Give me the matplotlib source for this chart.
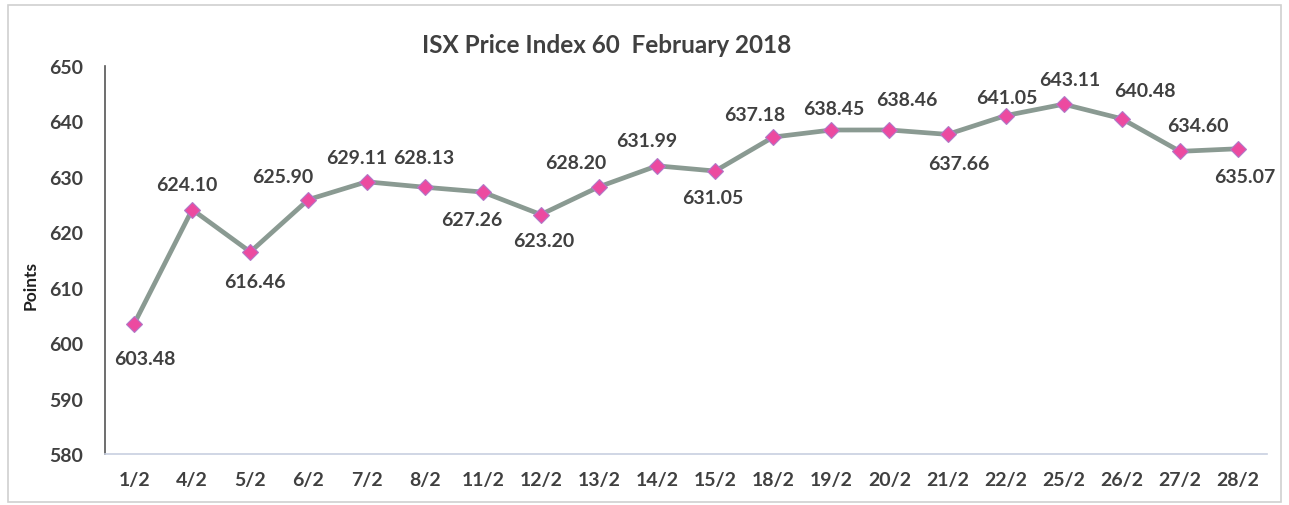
import matplotlib.pyplot as plt
from matplotlib.patches import Rectangle

# data
dates = ['1/2', '4/2', '5/2', '6/2', '7/2', '8/2', '11/2', '12/2', '13/2', '14/2',
         '15/2', '18/2', '19/2', '20/2', '21/2', '22/2', '25/2', '26/2', '27/2', '28/2']
values = [603.48, 624.10, 616.46, 625.90, 629.11, 628.13, 627.26, 623.20, 628.20, 631.99,
          631.05, 637.18, 638.45, 638.46, 637.66, 641.05, 643.11, 640.48, 634.60, 635.07]

# label placement relative to the marker (pixels, +dy = above)
label_dx = [11, -5, 5, -26, -10, -1, -11, 3, -23, -10,
            -2, -19, 2, 17, 11, 1, 6, 23, 18, 7]
label_dy = [-35, 25, -30, 23, 24, 30, -27, -26, 24, 25,
            -26, 23, 22, 30, -29, 18, 25, 28, 26, -28]

plt.rcParams['font.family'] = ['Lato', 'DejaVu Sans']
txt = '#404040'

fig = plt.figure(figsize=(12.89, 5.06), dpi=100)
fig.patches.append(Rectangle((0.006, 0.006), 0.988, 0.982, transform=fig.transFigure,
                             fill=False, edgecolor='#d0d0d0', lw=1.2))
ax = fig.add_axes([0.0815, 0.1008, 0.9015, 0.7668])

x = list(range(len(dates)))
ax.plot(x, values, color='#8a9a92', lw=3.4, zorder=2)
ax.plot(x, values, ls='none', marker='D', ms=8.5, markerfacecolor='#ec4aa0',
        markeredgecolor='#b07ac8', markeredgewidth=0.8, zorder=3)

for xi, v, dx, dy in zip(x, values, label_dx, label_dy):
    ax.annotate(f'{v:.2f}', (xi, v), xytext=(dx, dy), textcoords='offset pixels',
                ha='center', va='center', fontsize=14, fontweight='bold', color=txt)

ax.set_xlim(-0.5, len(dates) - 0.5)
ax.set_ylim(580, 650)
ax.set_yticks(range(580, 651, 10))
ax.set_xticks(x)
ax.set_xticklabels(dates)
ax.tick_params(axis='both', length=0, labelsize=14, colors=txt)
ax.tick_params(axis='x', pad=12)
ax.tick_params(axis='y', pad=16)
for lab in ax.get_xticklabels() + ax.get_yticklabels():
    lab.set_fontweight('bold')

ax.spines['top'].set_visible(False)
ax.spines['right'].set_visible(False)
ax.spines['left'].set_color('#555555')
ax.spines['left'].set_linewidth(1.2)
ax.spines['bottom'].set_color('#c8d0e0')
ax.spines['bottom'].set_linewidth(1.2)

ax.set_ylabel('Points', fontsize=12.5, fontweight='bold', color='#202020')
ax.yaxis.set_label_coords(-0.057, 0.438)
fig.text(0.471, 0.911, 'ISX Price Index 60  February 2018', ha='center', va='center',
         fontsize=17.5, fontweight='bold', color=txt)

fig.savefig('out.png', dpi=100)
